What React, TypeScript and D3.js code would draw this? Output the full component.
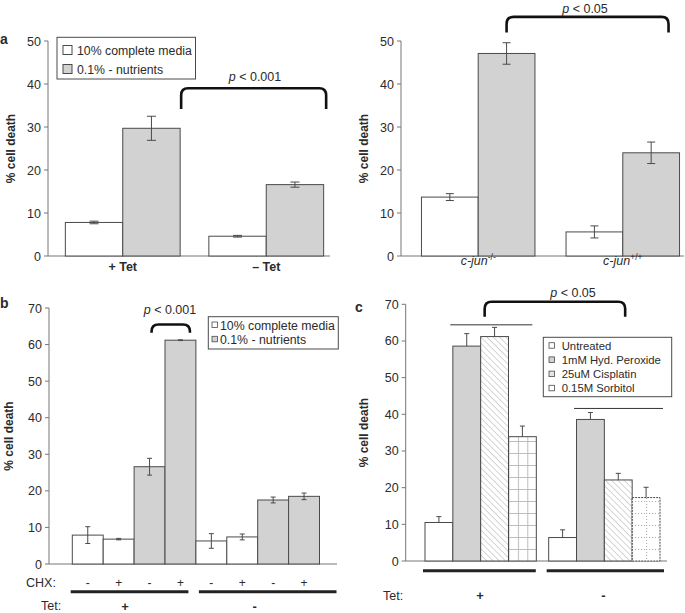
import React from 'react';
import * as d3 from 'd3';

// ---- data ----
// panel a (left)
const aGroups = ['+ Tet', '– Tet'];
const aSeries = ['10% complete media', '0.1% - nutrients'];
const aValues = [[7.8, 29.7], [4.6, 16.6]];
const aErrors = [[0.3, 2.8], [0.2, 0.6]];
const aTicks = [0, 10, 20, 30, 40, 50];

// panel a (right)
const jGroups = ['-/-', '+/+'];
const jValues = [[13.7, 47.1], [5.6, 24.0]];
const jErrors = [[0.8, 2.5], [1.4, 2.5]];

// panel b
const bChx = ['-', '+', '-', '+', '-', '+', '-', '+'];
const bTet = ['+', '-'];
const bMedia = [0, 0, 1, 1, 0, 0, 1, 1];
const bValues = [7.9, 6.8, 26.6, 61.2, 6.3, 7.4, 17.5, 18.5];
const bErrors = [2.3, 0.2, 2.3, 0.1, 2.0, 0.8, 0.8, 0.9];
const bTicks = [0, 10, 20, 30, 40, 50, 60, 70];

// panel c
const cGroups = ['+', '-'];
const cSeries = ['Untreated', '1mM Hyd. Peroxide', '25uM Cisplatin', '0.15M Sorbitol'];
const cValues = [[10.5, 58.6, 61.2, 33.9], [6.4, 38.6, 22.1, 17.3]];
const cErrors = [[1.6, 3.4, 2.5, 2.9], [2.1, 1.9, 1.8, 2.8]];

const FONT = '"Liberation Sans", Arial, sans-serif';
const INK = '#2b2b2b';
const AXIS = '#777';
const EDGE = '#4a4a4a';
const GRAY = '#d2d2d2';

const YAxis = ({ x, xEnd, y, ticks, labelX }) => (
  <g>
    <line x1={x} x2={x} y1={y(0)} y2={y(ticks[ticks.length - 1])} stroke={AXIS} />
    <line x1={x} x2={xEnd} y1={y(0)} y2={y(0)} stroke={AXIS} />
    {ticks.map((t) => (
      <g key={t}>
        <line x1={x - 4} x2={x} y1={y(t)} y2={y(t)} stroke={AXIS} />
        <text x={x - 7} y={y(t) + 4.5} textAnchor="end" fontSize={12.5} fill={INK}>
          {t}
        </text>
      </g>
    ))}
    <text
      transform={`translate(${labelX},${(y(0) + y(ticks[ticks.length - 1])) / 2}) rotate(-90)`}
      textAnchor="middle"
      fontSize={12}
      fontWeight="bold"
      fill={INK}
    >
      % cell death
    </text>
  </g>
);

const ErrBar = ({ cx, y, v, e, cap, upperOnly = false }) => {
  const top = y(v + e);
  const bot = upperOnly ? y(v) : y(v - e);
  return (
    <g stroke={EDGE} strokeWidth={1}>
      <line x1={cx} x2={cx} y1={top} y2={bot} />
      <line x1={cx - cap / 2} x2={cx + cap / 2} y1={top} y2={top} />
      {!upperOnly && <line x1={cx - cap / 2} x2={cx + cap / 2} y1={bot} y2={bot} />}
    </g>
  );
};

const Bracket = ({ x1, x2, yTop, yBot }) => {
  const r = 7;
  const d = `M${x1},${yBot} L${x1},${yTop + r} Q${x1},${yTop} ${x1 + r},${yTop} L${x2 - r},${yTop} Q${x2},${yTop} ${x2},${yTop + r} L${x2},${yBot}`;
  return <path d={d} fill="none" stroke="#111" strokeWidth={2.6} />;
};

const PText = ({ x, y, value }) => (
  <text x={x} y={y} textAnchor="middle" fontSize={12.5} fill={INK}>
    <tspan fontStyle="italic">p</tspan>
    {` < ${value}`}
  </text>
);

const App = () => {
  // panel a left
  const yA = d3.scaleLinear().domain([0, 50]).range([256, 41]);
  const xA = d3.scaleBand().domain(aGroups).range([51, 338]).paddingInner(0.2).paddingOuter(0.1);
  const iA = d3.scaleBand().domain(d3.range(aSeries.length)).range([0, xA.bandwidth()]);

  // panel a right
  const yJ = d3.scaleLinear().domain([0, 50]).range([256, 41]);
  const xJ = d3.scaleBand().domain(jGroups).range([407, 694]).paddingInner(0.215).paddingOuter(0.1);
  const iJ = d3.scaleBand().domain(d3.range(2)).range([0, xJ.bandwidth()]);

  // panel b
  const yB = d3.scaleLinear().domain([0, 70]).range([564, 308]);
  const xB = d3.scaleBand().domain(d3.range(bValues.length)).range([72.3, 319.5]);
  const bw = xB.bandwidth();

  // panel c
  const yC = d3.scaleLinear().domain([0, 70]).range([561, 304.3]);
  const xC = d3.scaleBand().domain(cGroups).range([425, 660]).paddingInner(0.1);
  const iC = d3.scaleBand().domain(d3.range(cSeries.length)).range([0, xC.bandwidth()]);
  const cw = iC.bandwidth();

  const cFill = (g, s) => {
    if (s === 0) return '#fff';
    if (s === 1) return GRAY;
    if (s === 2) return 'url(#hatch)';
    return g === 0 ? 'url(#grid)' : 'url(#dots)';
  };

  return (
    <svg
      width={685}
      height={613}
      style={{ position: 'absolute', left: 0, top: 0, background: '#fff' }}
      fontFamily={FONT}
    >
      <defs>
        <pattern id="hatch" patternUnits="userSpaceOnUse" width={4.4} height={4.4} patternTransform="rotate(-45)">
          <rect width={4.4} height={4.4} fill="#fff" />
          <line x1={0} y1={0} x2={0} y2={4.4} stroke="#a0a0a0" strokeWidth={0.9} />
        </pattern>
        <pattern id="grid" patternUnits="userSpaceOnUse" x={xC('+')! + iC(3)!} y={yC(0)} width={9.4} height={12}>
          <rect width={9.4} height={12} fill="#fff" />
          <path d="M0,0.5 H9.4 M0.5,0 V12" stroke="#bdbdbd" strokeWidth={1} fill="none" />
        </pattern>
        <pattern id="dots" patternUnits="userSpaceOnUse" x={xC('-')! + iC(3)! + cw / 2} y={yC(0)} width={14} height={12}>
          <rect width={14} height={12} fill="#fff" />
          <path d="M0,0.5 H14 M0.5,0 V12" stroke="#a5a5a5" strokeWidth={1} strokeDasharray="1,2" fill="none" />
        </pattern>
      </defs>

      {/* ---------- panel a (left) ---------- */}
      <text x={0} y={44} fontSize={14} fontWeight="bold" fill={INK}>a</text>
      <YAxis x={48} xEnd={330} y={yA} ticks={aTicks} labelX={15} />
      {aGroups.map((g, gi) =>
        aSeries.map((s, si) => {
          const x0 = xA(g)! + iA(si)!;
          return (
            <g key={g + s}>
              <rect x={x0} y={yA(aValues[gi][si])} width={iA.bandwidth()} height={yA(0) - yA(aValues[gi][si])}
                fill={si === 0 ? '#fff' : GRAY} stroke={EDGE} />
              <ErrBar cx={x0 + iA.bandwidth() / 2} y={yA} v={aValues[gi][si]} e={aErrors[gi][si]} cap={9} />
            </g>
          );
        })
      )}
      {aGroups.map((g) => (
        <text key={g} x={xA(g)! + xA.bandwidth() / 2} y={271} textAnchor="middle" fontSize={12.5} fontWeight="bold" fill={INK}>
          {g}
        </text>
      ))}
      <rect x={57} y={37.3} width={138.5} height={41.7} fill="#fff" stroke={EDGE} />
      {aSeries.map((s, i) => (
        <g key={s}>
          <rect x={63} y={45.5 + i * 19} width={9} height={9} fill={i === 0 ? '#fff' : GRAY} stroke={EDGE} />
          <text x={77} y={54.5 + i * 19} fontSize={12.3} fill={INK}>{s}</text>
        </g>
      ))}
      <Bracket x1={xA('+ Tet')! + xA.bandwidth() + 1} x2={xA('– Tet')! + xA.bandwidth() + 2.5} yTop={yA(39)} yBot={yA(34.2)} />
      <PText x={255} y={81} value="0.001" />

      {/* ---------- panel a (right) ---------- */}
      <YAxis x={401} xEnd={684} y={yJ} ticks={aTicks} labelX={368} />
      {jGroups.map((g, gi) =>
        [0, 1].map((si) => {
          const x0 = xJ(g)! + iJ(si)!;
          return (
            <g key={g + si}>
              <rect x={x0} y={yJ(jValues[gi][si])} width={iJ.bandwidth()} height={yJ(0) - yJ(jValues[gi][si])}
                fill={si === 0 ? '#fff' : GRAY} stroke={EDGE} />
              <ErrBar cx={x0 + iJ.bandwidth() / 2} y={yJ} v={jValues[gi][si]} e={jErrors[gi][si]} cap={8} />
            </g>
          );
        })
      )}
      {jGroups.map((g) => (
        <text key={g} x={xJ(g)! + xJ.bandwidth() / 2} y={265} textAnchor="middle" fontSize={12.5} fill={INK}>
          <tspan fontStyle="italic">c-jun</tspan>
          <tspan fontSize={8.5} dy={-5}>{g}</tspan>
        </text>
      ))}
      <Bracket x1={xJ('-/-')! + iJ(1)! + iJ.bandwidth() / 2} x2={xJ('+/+')! + xJ.bandwidth() - 11} yTop={yJ(55.6)} yBot={yJ(52)} />
      <PText x={585} y={13} value="0.05" />

      {/* ---------- panel b ---------- */}
      <text x={0} y={308} fontSize={14} fontWeight="bold" fill={INK}>b</text>
      <YAxis x={49} xEnd={337} y={yB} ticks={bTicks} labelX={13} />
      {bValues.map((v, i) => (
        <g key={i}>
          <rect x={xB(i)!} y={yB(v)} width={bw} height={yB(0) - yB(v)} fill={bMedia[i] === 0 ? '#fff' : GRAY} stroke={EDGE} />
          <ErrBar cx={xB(i)! + bw / 2} y={yB} v={v} e={bErrors[i]} cap={5} />
          <text x={xB(i)! + bw / 2} y={587} textAnchor="middle" fontSize={12} fill={INK}>{bChx[i]}</text>
        </g>
      ))}
      <text x={26} y={587} fontSize={12.5} fill={INK}>CHX:</text>
      <text x={41} y={610} fontSize={12.5} fill={INK}>Tet:</text>
      {bTet.map((t, gi) => {
        const first = xB(gi * 4)!;
        const last = xB(gi * 4 + 3)! + bw;
        return (
          <g key={t}>
            <line x1={first - (gi === 0 ? 1.6 : -3)} x2={last + (gi === 0 ? -7.5 : 17)} y1={591.7} y2={591.7} stroke="#222" strokeWidth={3} />
            <text x={(first + last) / 2 + (gi === 0 ? -9 : -3)} y={611} textAnchor="middle" fontSize={13} fontWeight="bold" fill={INK}>{t}</text>
          </g>
        );
      })}
      <Bracket x1={xB(2)! + bw / 2 + 2} x2={xB(3)! + bw / 2 + 9.5} yTop={yB(65.5)} yBot={yB(63.2)} />
      <PText x={170} y={314} value="0.001" />
      <rect x={208.3} y={316.7} width={130} height={32.3} fill="#fff" stroke={EDGE} />
      {aSeries.map((s, i) => (
        <g key={s}>
          <rect x={212} y={322 + i * 14.3} width={5.5} height={5.5} fill={i === 0 ? '#fff' : GRAY} stroke={EDGE} strokeWidth={0.8} />
          <text x={220} y={329.5 + i * 14.3} fontSize={12.3} fill={INK}>{s}</text>
        </g>
      ))}

      {/* ---------- panel c ---------- */}
      <text x={355} y={312} fontSize={14} fontWeight="bold" fill={INK}>c</text>
      <YAxis x={405.7} xEnd={667} y={yC} ticks={bTicks} labelX={368} />
      {cGroups.map((g, gi) => (
        <g key={g}>
          {cSeries.map((s, si) => {
            const x0 = xC(g)! + iC(si)!;
            return (
              <g key={s}>
                <rect x={x0} y={yC(cValues[gi][si])} width={cw} height={yC(0) - yC(cValues[gi][si])}
                  fill={cFill(gi, si)} stroke={EDGE} strokeDasharray={gi === 1 && si === 3 ? '2,1' : undefined} />
                <ErrBar cx={x0 + cw / 2} y={yC} v={cValues[gi][si]} e={cErrors[gi][si]} cap={5} upperOnly />
              </g>
            );
          })}
          <line
            x1={xC(g)! + iC(1)! - 2.5}
            x2={xC(g)! + xC.bandwidth() - (gi === 0 ? 4 : -3)}
            y1={yC(d3.max(cValues[gi].map((v, k) => v + cErrors[gi][k]))! + (gi === 0 ? 0.7 : 1.1))}
            y2={yC(d3.max(cValues[gi].map((v, k) => v + cErrors[gi][k]))! + (gi === 0 ? 0.7 : 1.1))}
            stroke="#333"
          />
          <line x1={xC(g)! - 2} x2={xC(g)! + xC.bandwidth() + (gi === 0 ? -0.5 : 4)} y1={570.7} y2={570.7} stroke="#222" strokeWidth={3} />
          <text x={xC(g)! + xC.bandwidth() / 2 + (gi === 0 ? -0.5 : -1)} y={600} textAnchor="middle" fontSize={13} fontWeight="bold" fill={INK}>{g}</text>
        </g>
      ))}
      <text x={383} y={600} fontSize={12.5} fill={INK}>Tet:</text>
      <Bracket x1={xC('+')! + iC(2)! + 4} x2={xC('-')! + iC(2)! + cw - 7} yTop={yC(70.7)} yBot={yC(66.6)} />
      <PText x={573} y={297} value="0.05" />
      <rect x={543.3} y={337.3} width={128.4} height={59.4} fill="#fff" stroke={EDGE} />
      {cSeries.map((s, i) => (
        <g key={s}>
          <rect x={549} y={342.7 + i * 14.2} width={5.5} height={5.5}
            fill={i === 1 ? GRAY : i === 2 ? '#e4e4e4' : '#fff'} stroke={EDGE} strokeWidth={0.8} />
          <text x={561.7} y={349.7 + i * 14.2} fontSize={11.3} fill={INK}>{s}</text>
        </g>
      ))}
    </svg>
  );
};

export default App;
